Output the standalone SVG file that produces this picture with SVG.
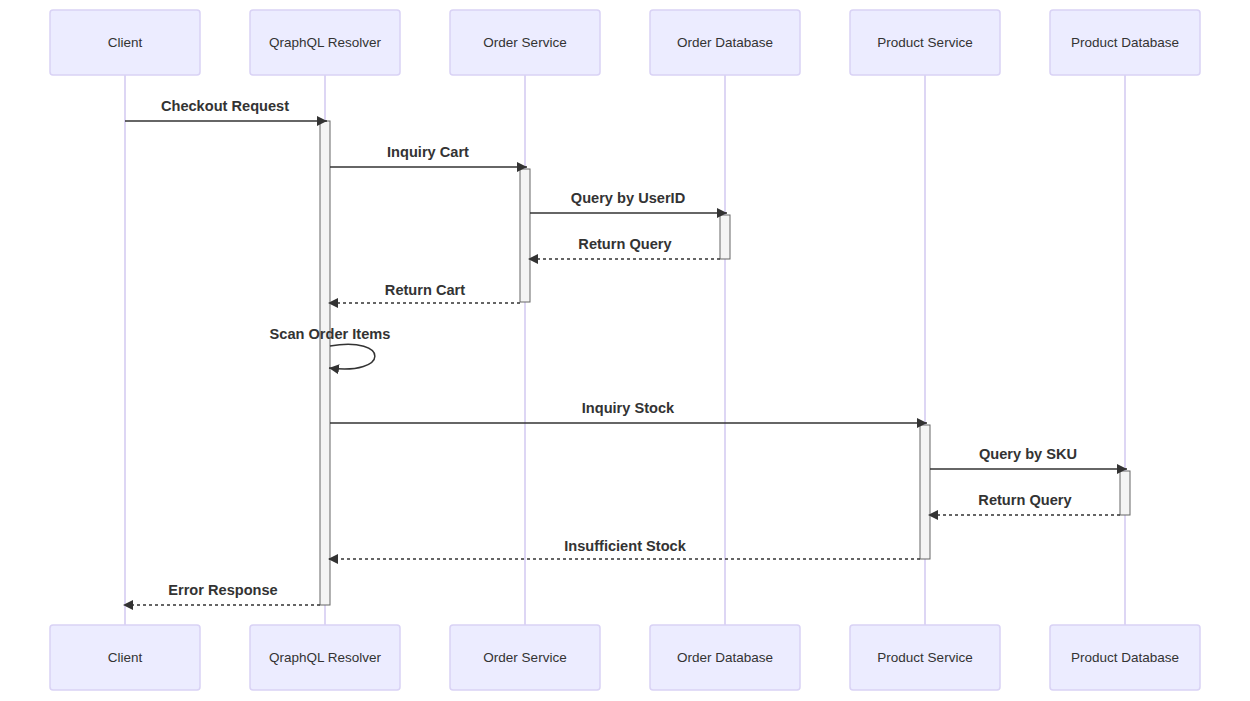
<svg xmlns="http://www.w3.org/2000/svg" width="1250" height="701" viewBox="0 0 1250 701">
<style>
.actor{fill:#ECECFF;stroke:#D9D2F5;stroke-width:1.5}
.atext{font-family:"Liberation Sans",Arial,sans-serif;font-size:13.5px;fill:#333;text-anchor:middle;dominant-baseline:central}
.life{stroke:#D2C9F0;stroke-width:1.5}
.act{fill:#F4F4F4;stroke:#666;stroke-width:1}
.msg{stroke:#333;stroke-width:1.5;fill:none;marker-end:url(#ah)}
.dash{stroke-dasharray:3,3}
.mtext{font-family:"Liberation Sans",Arial,sans-serif;font-size:14.6px;font-weight:bold;fill:#333;text-anchor:middle}
</style>
<defs>
<marker id="ah" markerWidth="12" markerHeight="12" refX="10" refY="5" viewBox="0 0 12 10" orient="auto" markerUnits="userSpaceOnUse">
<path d="M0,0 L10,5 L0,10 z" fill="#333"/>
</marker>
</defs>
<rect width="1250" height="701" fill="#fff"/>
<g id="lifelines">
<line class="life" x1="125" y1="75" x2="125" y2="625"/>
<line class="life" x1="325" y1="75" x2="325" y2="625"/>
<line class="life" x1="525" y1="75" x2="525" y2="625"/>
<line class="life" x1="725" y1="75" x2="725" y2="625"/>
<line class="life" x1="925" y1="75" x2="925" y2="625"/>
<line class="life" x1="1125" y1="75" x2="1125" y2="625"/>
</g>
<g id="actor-client"><rect class="actor" x="50" y="10" width="150" height="65" rx="3"/><text class="atext" x="125" y="42.5">Client</text><rect class="actor" x="50" y="625" width="150" height="65" rx="3"/><text class="atext" x="125" y="657.5">Client</text></g>
<g id="actor-resolver"><rect class="actor" x="250" y="10" width="150" height="65" rx="3"/><text class="atext" x="325" y="42.5">QraphQL Resolver</text><rect class="actor" x="250" y="625" width="150" height="65" rx="3"/><text class="atext" x="325" y="657.5">QraphQL Resolver</text></g>
<g id="actor-orderservice"><rect class="actor" x="450" y="10" width="150" height="65" rx="3"/><text class="atext" x="525" y="42.5">Order Service</text><rect class="actor" x="450" y="625" width="150" height="65" rx="3"/><text class="atext" x="525" y="657.5">Order Service</text></g>
<g id="actor-orderdb"><rect class="actor" x="650" y="10" width="150" height="65" rx="3"/><text class="atext" x="725" y="42.5">Order Database</text><rect class="actor" x="650" y="625" width="150" height="65" rx="3"/><text class="atext" x="725" y="657.5">Order Database</text></g>
<g id="actor-productservice"><rect class="actor" x="850" y="10" width="150" height="65" rx="3"/><text class="atext" x="925" y="42.5">Product Service</text><rect class="actor" x="850" y="625" width="150" height="65" rx="3"/><text class="atext" x="925" y="657.5">Product Service</text></g>
<g id="actor-productdb"><rect class="actor" x="1050" y="10" width="150" height="65" rx="3"/><text class="atext" x="1125" y="42.5">Product Database</text><rect class="actor" x="1050" y="625" width="150" height="65" rx="3"/><text class="atext" x="1125" y="657.5">Product Database</text></g>
<g id="activations">
<rect class="act" x="320" y="121" width="10" height="484"/>
<rect class="act" x="520" y="169" width="10" height="133"/>
<rect class="act" x="720" y="215" width="10" height="44"/>
<rect class="act" x="920" y="425" width="10" height="134"/>
<rect class="act" x="1120" y="471" width="10" height="44"/>
</g>
<g id="connectors">
<line class="msg" x1="125" y1="121" x2="327" y2="121"/>
<text class="mtext" x="225" y="111">Checkout Request</text>
<line class="msg" x1="330" y1="167" x2="527" y2="167"/>
<text class="mtext" x="428" y="157">Inquiry Cart</text>
<line class="msg" x1="530" y1="213" x2="727" y2="213"/>
<text class="mtext" x="628" y="203">Query by UserID</text>
<line class="msg dash" x1="720" y1="259" x2="528" y2="259"/>
<text class="mtext" x="625" y="249">Return Query</text>
<line class="msg dash" x1="520" y1="303" x2="328" y2="303"/>
<text class="mtext" x="425" y="295">Return Cart</text>
<path class="msg" d="M330,346 C390,336 390,376 329,368"/>
<text class="mtext" x="330" y="339">Scan Order Items</text>
<line class="msg" x1="330" y1="423" x2="927" y2="423"/>
<text class="mtext" x="628" y="413">Inquiry Stock</text>
<line class="msg" x1="930" y1="469" x2="1127" y2="469"/>
<text class="mtext" x="1028" y="459">Query by SKU</text>
<line class="msg dash" x1="1120" y1="515" x2="928" y2="515"/>
<text class="mtext" x="1025" y="505">Return Query</text>
<line class="msg dash" x1="920" y1="559" x2="328" y2="559"/>
<text class="mtext" x="625" y="551">Insufficient Stock</text>
<line class="msg dash" x1="320" y1="605" x2="123" y2="605"/>
<text class="mtext" x="223" y="595">Error Response</text>
</g>
</svg>
